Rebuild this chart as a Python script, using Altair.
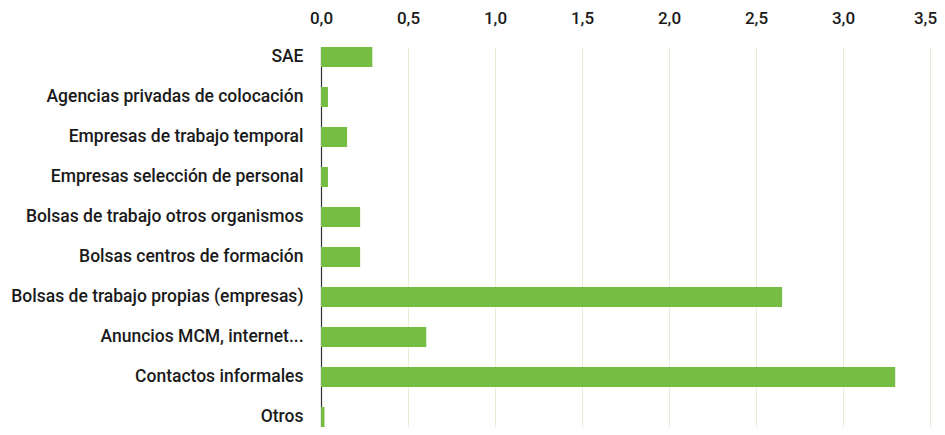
import altair as alt
import pandas as pd

categories = [
    "SAE",
    "Agencias privadas de colocación",
    "Empresas de trabajo temporal",
    "Empresas selección de personal",
    "Bolsas de trabajo otros organismos",
    "Bolsas centros de formación",
    "Bolsas de trabajo propias (empresas)",
    "Anuncios MCM, internet...",
    "Contactos informales",
    "Otros",
]
values = [0.295, 0.04, 0.15, 0.04, 0.225, 0.225, 2.65, 0.605, 3.30, 0.02]
x_ticks = [0.0, 0.5, 1.0, 1.5, 2.0, 2.5, 3.0, 3.5]

df = pd.DataFrame({"cat": categories, "val": values})

FONT = "Roboto"

chart = alt.Chart(df).mark_bar(color="#76bd43").encode(
    x=alt.X(
        "val:Q",
        scale=alt.Scale(domain=[0, 3.5], nice=False, zero=True),
        axis=alt.Axis(
            orient="top",
            values=x_ticks,
            labelExpr="replace(format(datum.value, '.1f'), '.', ',')",
            labelFlush=False,
            labelOffset={"condition": {"test": "datum.value >= 3.5", "value": -5}, "value": 0},
            domain=False,
            ticks=False,
            grid=True,
            gridColor="#e2eed8",
            gridWidth=1,
            labelFontSize=17,
            labelFont=FONT,
            labelFontWeight=500,
            labelColor="#1a1a1a",
            labelPadding=20,
            title=None,
        ),
    ),
    y=alt.Y(
        "cat:N",
        sort=categories,
        scale=alt.Scale(paddingInner=0.5, paddingOuter=0),
        axis=alt.Axis(
            domain=True,
            domainColor="#333333",
            domainWidth=1.2,
            ticks=False,
            grid=False,
            labelFontSize=17.5,
            labelFont=FONT,
            labelFontWeight=500,
            labelColor="#1a1a1a",
            labelPadding=18,
            labelLimit=500,
            title=None,
        ),
    ),
).properties(
    width=609,
    height=380,
    autosize=alt.AutoSizeParams(type="none"),
    padding={"left": 313, "top": 39, "right": 7, "bottom": 0},
).configure_view(stroke=None)

chart.save("out.html", embed_options={"renderer": "svg", "actions": False})
